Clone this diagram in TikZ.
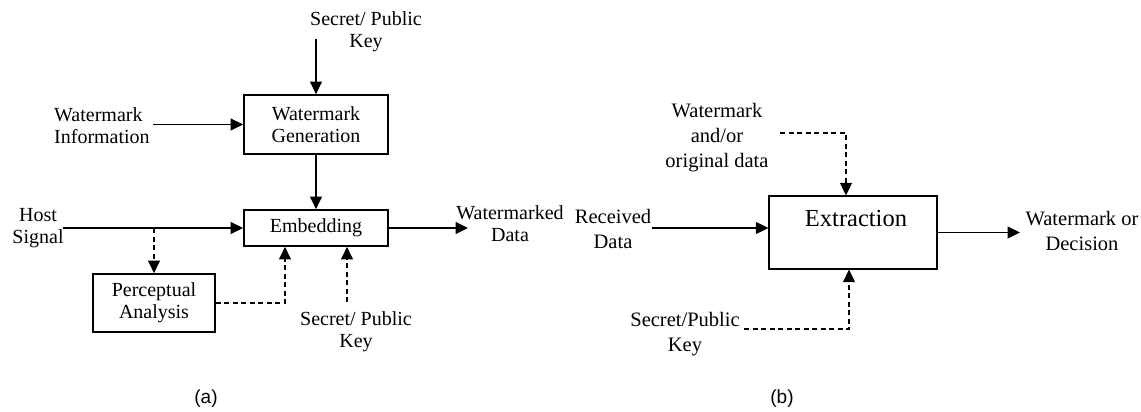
\documentclass[tikz,border=0pt]{standalone}
\usepackage{fontspec}
\setmainfont{Liberation Serif}
\newfontfamily\labelfont{Liberation Sans}
\usetikzlibrary{arrows.meta,calc}
\begin{document}
\begin{tikzpicture}[x=1pt,y=-1pt,
  txta/.style={inner sep=0pt,align=center,font=\fontsize{20}{22}\selectfont},
  txtb/.style={inner sep=0pt,align=center,font=\fontsize{20.5}{25}\selectfont},
  blocka/.style={draw,line width=1.8pt,inner sep=0pt,align=center,
    font=\fontsize{20}{22}\selectfont},
  blockb/.style={draw,line width=1.2pt,inner sep=0pt},
  conn/.style={line width=1.1pt,-{Triangle[length=12.5pt,width=12pt]}},
  dsh/.style={dash pattern=on 5pt off 3.5pt},
  caption/.style={inner sep=0pt,font=\labelfont\fontsize{19}{22}\selectfont}]
\useasboundingbox (0,0) rectangle (1141,412);

% ---------- (a) embedding side ----------
\node[blocka,minimum width=144pt,minimum height=59pt] (gen) at (316,124.5)
  {Watermark\\Generation};
\node[blocka,minimum width=144pt,minimum height=36pt] (emb) at (316,228)
  {Embedding};
\node[blocka,minimum width=122pt,minimum height=58pt] (perc) at (154,303)
  {Perceptual\\Analysis};

\node[txta] (keytop) at (366,31.5) {Secret/ Public\\Key};
\node[txta,anchor=west,align=left] (wminfo) at (54,125.5) {Watermark\\Information};
\node[txta] (host) at (38,228.5) {Host\\Signal};
\node[txta] (keybot) at (356,332) {Secret/ Public\\Key};
\node[txta] (wmdata) at (510,224) {Watermarked\\Data};

\coordinate (k1) at (316,39);
\coordinate (wi) at (153,124.5);
\coordinate (hs) at (63,228);
\coordinate (br) at (154,228);
\coordinate (kb) at (347,302);
\coordinate (wo) at (468,228);

\draw[conn] (k1) -- (gen.north);
\draw[conn] (wi) -- (gen.west);
\draw[conn] (gen.south) -- (emb.north);
\draw[conn] (hs) -- (emb.west);
\draw[conn,dsh] (br) -- (perc.north);
\draw[conn,dsh] (perc.east) -| ([xshift=-31pt]emb.south);
\draw[conn,dsh] (kb) -- (kb |- emb.south);
\draw[conn] (emb.east) -- (wo);

\node[caption] (capa) at (206,399) {(a)};

% ---------- (b) extraction side ----------
\node[blockb,minimum width=168pt,minimum height=73pt] (ext) at (853,232.5) {};
\node[inner sep=0pt,font=\fontsize{24.5}{28}\selectfont] (exttxt) at (856,219)
  {Extraction};

\node[txtb] (wmorig) at (717,138) {Watermark\\and/or\\original data};
\node[txtb] (recv) at (613,228.5) {Received\\Data};
\node[txtb] (skey) at (685,334) {Secret/Public\\Key};
\node[txtb] (dec) at (1082,230.5) {Watermark or\\Decision};

\coordinate (wt) at (780,133);
\coordinate (rd) at (652,228);
\coordinate (wd) at (1020,232.5);
\coordinate (sk) at (744,329);

\draw[conn,dsh] (wt) -| ([xshift=-7pt]ext.north);
\draw[conn] (rd) -- (rd -| ext.west);
\draw[conn] (ext.east) -- (wd);
\draw[conn,dsh] (sk) -| ([xshift=-4pt]ext.south);

\node[caption] (capb) at (782,399) {(b)};
\end{tikzpicture}
\end{document}
